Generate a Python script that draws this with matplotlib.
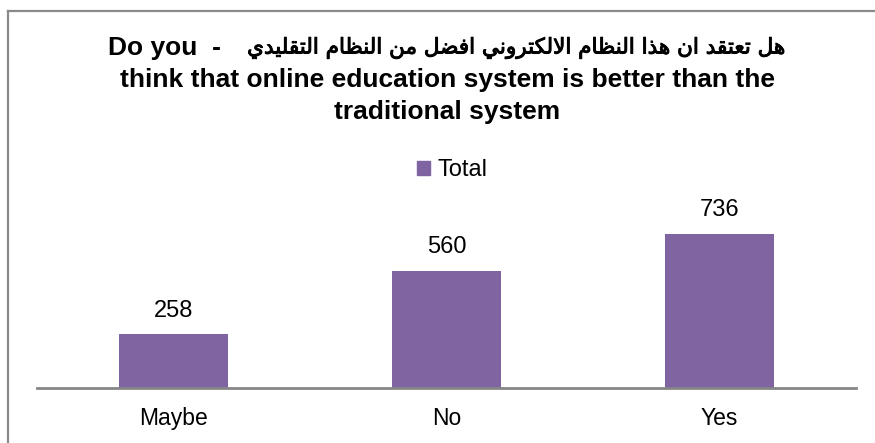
import matplotlib
matplotlib.use("Agg")
import matplotlib.pyplot as plt
import matplotlib.patheffects as pe
from matplotlib.lines import Line2D
from matplotlib.patches import Rectangle

# ---- data ----
categories = ["Maybe", "No", "Yes"]
values = [258, 560, 736]
series_name = "Total"
title_ar = "هل تعتقد ان هذا النظام الالكتروني افضل من النظام التقليدي"
title_en_1 = "Do you  -"
title_en_2 = "think that online education system is better than the"
title_en_3 = "traditional system"

BAR_COLOR = "#8064A2"
AXIS_COLOR = "#868686"
FAM = ["Liberation Sans", "DejaVu Sans"]
FAM_AR = ["DejaVu Sans"]

# ---- minimal Arabic shaping (presentation forms) + visual reordering ----
# forms: (isolated, final, initial, medial); None for right-joining letters
FORMS = {
    "ا": ("\uFE8D", "\uFE8E", None, None),
    "د": ("\uFEA9", "\uFEAA", None, None),
    "ذ": ("\uFEAB", "\uFEAC", None, None),
    "ر": ("\uFEAD", "\uFEAE", None, None),
    "و": ("\uFEED", "\uFEEE", None, None),
    "ت": ("\uFE95", "\uFE96", "\uFE97", "\uFE98"),
    "ض": ("\uFEBD", "\uFEBE", "\uFEBF", "\uFEC0"),
    "ظ": ("\uFEC5", "\uFEC6", "\uFEC7", "\uFEC8"),
    "ع": ("\uFEC9", "\uFECA", "\uFECB", "\uFECC"),
    "ف": ("\uFED1", "\uFED2", "\uFED3", "\uFED4"),
    "ق": ("\uFED5", "\uFED6", "\uFED7", "\uFED8"),
    "ك": ("\uFED9", "\uFEDA", "\uFEDB", "\uFEDC"),
    "ل": ("\uFEDD", "\uFEDE", "\uFEDF", "\uFEE0"),
    "م": ("\uFEE1", "\uFEE2", "\uFEE3", "\uFEE4"),
    "ن": ("\uFEE5", "\uFEE6", "\uFEE7", "\uFEE8"),
    "ه": ("\uFEE9", "\uFEEA", "\uFEEB", "\uFEEC"),
    "ي": ("\uFEF1", "\uFEF2", "\uFEF3", "\uFEF4"),
}


def dual(c):
    return c in FORMS and FORMS[c][2] is not None


def shape(text):
    out = []
    i = 0
    n = len(text)
    while i < n:
        c = text[i]
        if c not in FORMS:
            out.append(c)
            i += 1
            continue
        prev = text[i - 1] if i > 0 else ""
        join_prev = dual(prev)
        if c == "ل" and i + 1 < n and text[i + 1] == "ا":
            out.append("\uFEFC" if join_prev else "\uFEFB")
            i += 2
            continue
        nxt = text[i + 1] if i + 1 < n else ""
        join_next = dual(c) and nxt in FORMS
        iso, fin, ini, med = FORMS[c]
        if join_prev and join_next:
            out.append(med)
        elif join_prev:
            out.append(fin)
        elif join_next:
            out.append(ini)
        else:
            out.append(iso)
        i += 1
    return "".join(out)[::-1]


# ---- figure ----
W, H = 875, 443
fig = plt.figure(figsize=(W / 100, H / 100), dpi=100)
plt.rcParams["font.family"] = FAM

ax = fig.add_axes([37 / W, 1 - 388 / H, (856 - 37) / W, (800 * 154 / 736) / H])
x = range(len(categories))
ax.bar(x, values, width=0.4, color=BAR_COLOR, label=series_name, zorder=2)
ax.set_xlim(-0.5, len(categories) - 0.5)
ax.set_ylim(0, 800)
for s in ["top", "right", "left"]:
    ax.spines[s].set_visible(False)
ax.spines["bottom"].set_color(AXIS_COLOR)
ax.spines["bottom"].set_linewidth(2)
ax.set_yticks([])
ax.set_xticks(list(x))
ax.set_xticklabels(categories, fontsize=16.5, family=FAM)
ax.tick_params(axis="x", length=0, pad=14)
for xi, v in zip(x, values):
    ax.annotate(str(v), (xi, v), xytext=(0, 9), textcoords="offset points",
                ha="center", va="bottom", fontsize=17, family=FAM)

# title, line by line (first line laid out right-to-left as in the reference)
fig.text(783 / W, 1 - 48 / H, shape(title_ar), ha="right", va="center",
         fontsize=15.5, family=FAM_AR,
         path_effects=[pe.withStroke(linewidth=0.7, foreground="black")])
fig.text(108 / W, 1 - 48 / H, title_en_1, ha="left", va="center",
         fontsize=19, fontweight="bold", family=FAM)
fig.text(447 / W, 1 - 80 / H, title_en_2, ha="center", va="center",
         fontsize=19, fontweight="bold", family=FAM)
fig.text(447 / W, 1 - 112 / H, title_en_3, ha="center", va="center",
         fontsize=19, fontweight="bold", family=FAM)

fig.legend(handles=[Rectangle((0, 0), 1, 1, color=BAR_COLOR)], labels=[series_name],
           loc="center", bbox_to_anchor=(452 / W, 1 - 170 / H), frameon=False,
           handlelength=0.55, handleheight=0.55, handletextpad=0.3,
           prop={"family": FAM, "size": 17})

# outer border (left and top visible)
fig.add_artist(Line2D([7.5 / W, 7.5 / W], [0, 1 - 10.5 / H], color="#8a8a8a", lw=1.6,
                      transform=fig.transFigure))
fig.add_artist(Line2D([7.5 / W, 1], [1 - 10.5 / H, 1 - 10.5 / H], color="#8a8a8a", lw=1.6,
                      transform=fig.transFigure))

fig.savefig("out.png", dpi=100)
